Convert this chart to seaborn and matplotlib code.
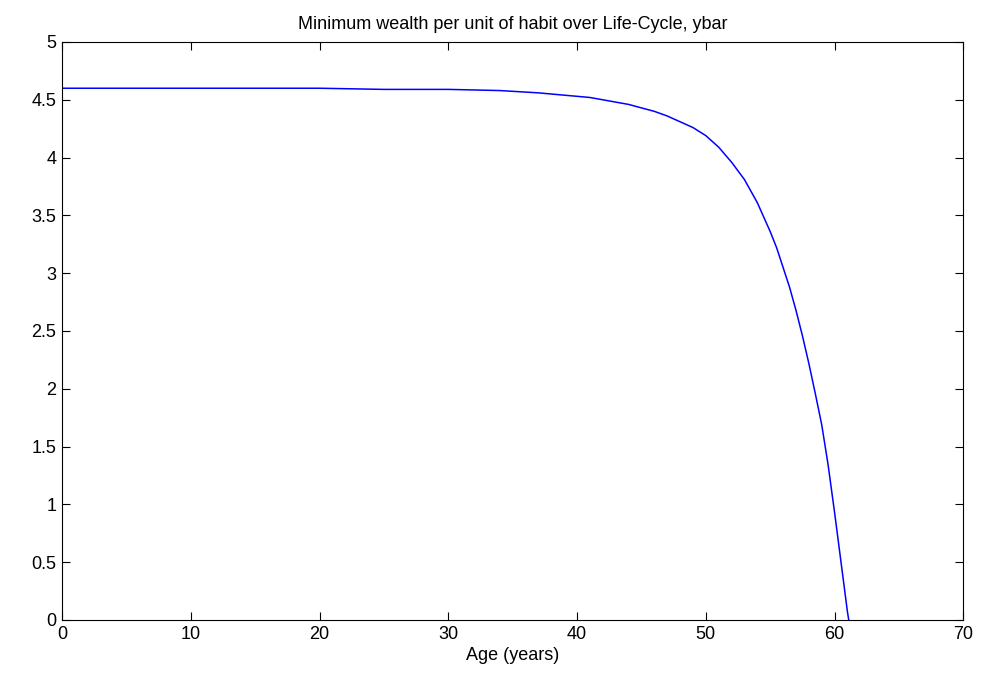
import matplotlib
matplotlib.use("Agg")
import matplotlib.pyplot as plt
import seaborn as sns
import pandas as pd

# values
age = [0, 5, 10, 15, 20, 25, 30, 34, 37, 40, 41, 42, 43, 44, 45, 46, 47, 48,
       49, 50, 51, 52, 53, 54, 55, 55.5, 56, 56.5, 57, 57.5, 58, 58.5, 59,
       59.5, 60, 60.5, 61, 61.1]
ybar = [4.60, 4.60, 4.60, 4.60, 4.60, 4.59, 4.59, 4.58, 4.56, 4.53, 4.52, 4.50,
        4.48, 4.46, 4.43, 4.40, 4.36, 4.31, 4.26, 4.19, 4.09, 3.96, 3.81, 3.61,
        3.36, 3.22, 3.05, 2.88, 2.68, 2.46, 2.22, 1.96, 1.69, 1.34, 0.93, 0.50,
        0.07, 0.0]

x_ticks = list(range(0, 71, 10))
y_ticks = [0, 0.5, 1, 1.5, 2, 2.5, 3, 3.5, 4, 4.5, 5]
y_labels = ["0", "0.5", "1", "1.5", "2", "2.5", "3", "3.5", "4", "4.5", "5"]

df = pd.DataFrame({"age": age, "ybar": ybar})

sns.set_style("ticks")
plt.rcParams["font.family"] = ["Liberation Sans", "DejaVu Sans"]
plt.rcParams["text.color"] = "black"
plt.rcParams["axes.labelcolor"] = "black"

fig = plt.figure(figsize=(9.85, 6.84), dpi=100)
ax = fig.add_axes([0.063, 0.0936, 0.915, 0.845])

sns.lineplot(data=df, x="age", y="ybar", color="#0000ff", linewidth=1.1, ax=ax)

ax.set_xlim(0, 70)
ax.set_ylim(0, 5)
ax.set_xticks(x_ticks)
ax.set_yticks(y_ticks)
ax.set_yticklabels(y_labels)
ax.tick_params(direction="in", length=6, width=0.8, top=True, right=True,
               labelsize=13, colors="black", pad=4)
for s in ax.spines.values():
    s.set_visible(True)
    s.set_linewidth(0.8)
    s.set_color("black")

ax.set_xlabel("Age (years)", fontsize=13, labelpad=3)
ax.set_ylabel("")
ax.set_title("Minimum wealth per unit of habit over Life-Cycle, ybar",
             fontsize=13, pad=9)

fig.savefig("out.png", dpi=100)
